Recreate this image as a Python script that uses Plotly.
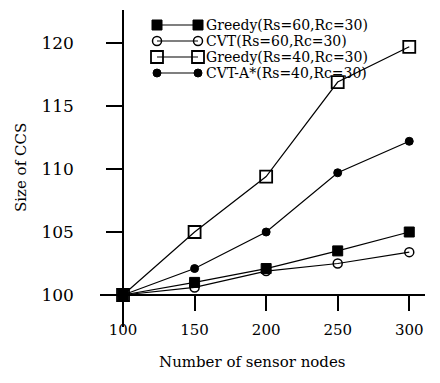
import plotly.graph_objects as go

# ---- data ----
nodes = [100, 150, 200, 250, 300]
greedy_60 = [100.0, 101.0, 102.1, 103.5, 105.0]
cvt_60 = [100.0, 100.6, 101.9, 102.5, 103.4]
greedy_40 = [100.0, 105.0, 109.4, 116.9, 119.7]
cvt_astar_40 = [100.0, 102.1, 105.0, 109.7, 112.2]
series_names = ["Greedy(Rs=60,Rc=30)", "CVT(Rs=60,Rc=30)",
                "Greedy(Rs=40,Rc=30)", "CVT-A*(Rs=40,Rc=30)"]
x_ticks = [100, 150, 200, 250, 300]
y_ticks = [100, 105, 110, 115, 120]

FONT = "'DejaVu Serif', 'Liberation Serif', serif"
series = [greedy_60, cvt_60, greedy_40, cvt_astar_40]
markers = [
    dict(symbol="square", size=10, color="black", line=dict(color="black", width=1)),
    dict(symbol="circle-open", size=9, color="black", line=dict(color="black", width=1.5)),
    dict(symbol="square-open", size=12, color="black", line=dict(color="black", width=1.8)),
    dict(symbol="circle", size=8, color="black", line=dict(color="black", width=1)),
]

# page body has an 8px margin: plot area is kept at screen px x 100..425, y 10..327
PX0, PX1, PY0, PY1 = 100, 425, 10, 327


def px_to_paper(px, py):
    return (px - PX0) / (PX1 - PX0), (PY1 - py) / (PY1 - PY0)


fig = go.Figure()
for name, ys, mk in zip(series_names, series, markers):
    fig.add_trace(go.Scatter(x=nodes, y=ys, mode="lines+markers", name=name,
                             line=dict(color="black", width=1.2), marker=mk,
                             showlegend=False, cliponaxis=False))

# ---- manual legend drawn on an overlay axis in screen-pixel units ----
row_y = [25, 41, 57, 73]
for name, mk, ry in zip(series_names, markers, row_y):
    fig.add_trace(go.Scatter(x=[157, 198], y=[ry, ry], mode="lines+markers",
                             xaxis="x2", yaxis="y2", line=dict(color="black", width=1.2),
                             marker=mk, showlegend=False, hoverinfo="skip", cliponaxis=False))
    ax, ay = px_to_paper(205, ry)
    fig.add_annotation(x=ax, y=ay, xref="paper", yref="paper",
                       text=name, showarrow=False, xanchor="left", yanchor="middle",
                       borderpad=0,
                       font=dict(family=FONT, size=14, color="black"))

fig.update_layout(
    width=432, height=375,
    margin=dict(l=92, r=15, t=2, b=56),
    paper_bgcolor="white", plot_bgcolor="white",
    font=dict(family=FONT, color="black"),
    xaxis=dict(range=[83.9, 311], tickvals=x_ticks, showgrid=False, zeroline=False,
               anchor="free", position=(PY1 - 295) / (PY1 - PY0),
               showline=True, linecolor="black", linewidth=1.5,
               ticks="outside", ticklen=15, tickwidth=1.5, tickcolor="black",
               ticklabelstandoff=6,
               tickfont=dict(family=FONT, size=15, color="black")),
    yaxis=dict(range=[97.46, 122.62], tickvals=y_ticks, showgrid=False, zeroline=False,
               anchor="free", position=23 / (PX1 - PX0),
               showline=True, linecolor="black", linewidth=1.5,
               ticks="outside", ticklen=16, tickwidth=1.5, tickcolor="black",
               ticklabelstandoff=29,
               tickfont=dict(family=FONT, size=17, color="black")),
    xaxis2=dict(range=[PX0, PX1], overlaying="x", visible=False, fixedrange=True),
    yaxis2=dict(range=[PY1, PY0], overlaying="y", visible=False, fixedrange=True, anchor="x2"),
)

# axis titles
tx, ty = px_to_paper(252, 362)
fig.add_annotation(x=tx, y=ty, xref="paper", yref="paper",
                   text="Number of sensor nodes", showarrow=False,
                   xanchor="center", yanchor="middle",
                   font=dict(family=FONT, size=15, color="black"))
tx, ty = px_to_paper(21, 168)
fig.add_annotation(x=tx, y=ty, xref="paper", yref="paper",
                   text="Size of CCS", textangle=-90, showarrow=False,
                   xanchor="center", yanchor="middle",
                   font=dict(family=FONT, size=15, color="black"))

fig.write_html("out.html")
